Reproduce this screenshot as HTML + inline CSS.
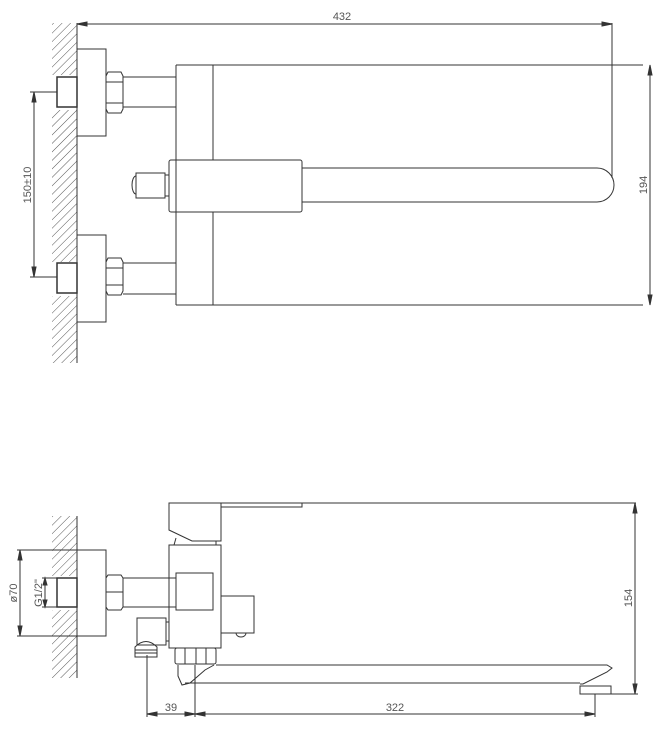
<!DOCTYPE html>
<html><head><meta charset="utf-8"><style>html,body{margin:0;padding:0;background:#fff}svg{display:block}</style></head><body>
<svg width="668" height="733" viewBox="0 0 668 733" xmlns="http://www.w3.org/2000/svg" font-family="Liberation Sans, sans-serif">
<defs>
<pattern id="h" width="6" height="6" patternUnits="userSpaceOnUse" patternTransform="rotate(45)"><line x1="0" y1="0" x2="0" y2="6" stroke="#555" stroke-width="1"/></pattern>
</defs>
<g fill="none" stroke="#333" stroke-width="1">
<rect x="52" y="23" width="25" height="52" fill="url(#h)" stroke="none"/>
<rect x="52" y="110" width="25" height="152" fill="url(#h)" stroke="none"/>
<rect x="52" y="296" width="25" height="67" fill="url(#h)" stroke="none"/>
<line x1="77" y1="23" x2="77" y2="363"/>
<line x1="77" y1="24" x2="612" y2="24"/>
<polygon points="77,24 87,22 87,26" fill="#333"/>
<polygon points="612,24 602,22 602,26" fill="#333"/>
<line x1="612" y1="23" x2="612" y2="178"/>
<rect x="77" y="49" width="29" height="87"/>
<rect x="77" y="235" width="29" height="87"/>
<rect x="57" y="77" width="20" height="30" stroke-width="1.5"/>
<rect x="57" y="263" width="20" height="30" stroke-width="1.5"/>
<path d="M108,72 H121 L123,76 V109 L121,113 H108 L106,109 V76 Z M106,82 H123 M106,103 H123"/>
<path d="M108,258 H121 L123,262 V291 L121,295 H108 L106,291 V262 Z M106,268 H123 M106,285 H123"/>
<path d="M123,77 H176 M123,107 H176 M123,263 H176 M123,294 H176"/>
<line x1="176" y1="65" x2="643" y2="65"/>
<line x1="176" y1="305" x2="643" y2="305"/>
<line x1="176" y1="65" x2="176" y2="305"/>
<line x1="213" y1="65" x2="213" y2="160"/>
<line x1="213" y1="212" x2="213" y2="305"/>
<rect x="169" y="160" width="133" height="52" rx="2"/>
<path d="M302,168 H597 A17,17 0 0 1 597,202 H302"/>
<rect x="136" y="173" width="29" height="25"/>
<line x1="165" y1="175" x2="169" y2="175"/><line x1="165" y1="196" x2="169" y2="196"/>
<path d="M136,176 A4,9 0 0 0 136,194"/>
<line x1="650" y1="65" x2="650" y2="305"/>
<polygon points="650,65 648,75 652,75" fill="#333"/>
<polygon points="650,305 648,295 652,295" fill="#333"/>
<line x1="30" y1="92" x2="57" y2="92"/>
<line x1="30" y1="277" x2="57" y2="277"/>
<line x1="34" y1="92" x2="34" y2="277"/>
<polygon points="34,92 32,102 36,102" fill="#333"/>
<polygon points="34,277 32,267 36,267" fill="#333"/>

<rect x="52" y="516" width="25" height="60" fill="url(#h)" stroke="none"/>
<rect x="52" y="610" width="25" height="68" fill="url(#h)" stroke="none"/>
<line x1="77" y1="516" x2="77" y2="678"/>
<rect x="77" y="550" width="29" height="86"/>
<rect x="57" y="578" width="20" height="29" stroke-width="1.5"/>
<path d="M108,575 H121 L123,578 V607 L121,610 H108 L106,607 V578 Z M106,592 H123"/>
<path d="M123,578 H176 M123,607 H176"/>
<line x1="17" y1="550" x2="77" y2="550"/>
<line x1="17" y1="636" x2="77" y2="636"/>
<line x1="20" y1="550" x2="20" y2="636"/>
<polygon points="20,550 18,560 22,560" fill="#333"/>
<polygon points="20,636 18,626 22,626" fill="#333"/>
<line x1="42" y1="578" x2="57" y2="578"/>
<line x1="42" y1="607" x2="57" y2="607"/>
<line x1="45" y1="578" x2="45" y2="607"/>
<polygon points="45,578 43,585 47,585" fill="#333"/>
<polygon points="45,607 43,600 47,600" fill="#333"/>
<path d="M169,503 H221 V541 H192 L169,530 Z"/>
<path d="M221,503 H302 V507 H221"/>
<line x1="302" y1="503" x2="636" y2="503"/>
<path d="M174,545 L176,538 M216,541 V545"/>
<rect x="169" y="545" width="52" height="103"/>
<rect x="176" y="573" width="37" height="37"/>
<rect x="221" y="596" width="33" height="37"/>
<path d="M236,633 A5,4 0 0 0 246,633"/>
<rect x="137" y="618" width="29" height="27"/>
<line x1="166" y1="622" x2="169" y2="622"/><line x1="166" y1="641" x2="169" y2="641"/>
<path d="M135,647 Q146,636 157,647 V657 H135 Z M135,650 H157 M135,653 H157"/>
<rect x="175" y="648" width="41" height="16" rx="2"/>
<path d="M185,648 V664 M196,648 V664 M206,648 V664"/>
<path d="M216,665 H607 L612,668 L607,672 L583,684 H580 M185,683 H580"/>
<path d="M178,665 V676 L182,685 L190,683 L205,670 L214,665"/>
<rect x="580" y="686" width="31" height="8"/>
<line x1="611" y1="694" x2="638" y2="694"/>
<line x1="635" y1="503" x2="635" y2="694"/>
<polygon points="635,503 633,513 637,513" fill="#333"/>
<polygon points="635,694 633,684 637,684" fill="#333"/>
<line x1="147" y1="655" x2="147" y2="717"/>
<line x1="195" y1="665" x2="195" y2="717"/>
<line x1="595" y1="694" x2="595" y2="717"/>
<line x1="147" y1="714" x2="595" y2="714"/>
<polygon points="147,714 157,712 157,716" fill="#333"/>
<polygon points="195,714 185,712 185,716" fill="#333"/>
<polygon points="195,714 205,712 205,716" fill="#333"/>
<polygon points="595,714 585,712 585,716" fill="#333"/>
</g>
<g fill="#555" font-size="11">
<text x="342" y="20" text-anchor="middle">432</text>
<text transform="translate(647,185) rotate(-90)" text-anchor="middle">194</text>
<text transform="translate(31,185) rotate(-90)" text-anchor="middle">150±10</text>
<text transform="translate(17,593) rotate(-90)" text-anchor="middle">ø70</text>
<text transform="translate(42,593) rotate(-90)" text-anchor="middle">G1/2"</text>
<text transform="translate(632,598) rotate(-90)" text-anchor="middle">154</text>
<text x="171" y="711" text-anchor="middle">39</text>
<text x="395" y="711" text-anchor="middle">322</text>
</g>
</svg>
</body></html>
